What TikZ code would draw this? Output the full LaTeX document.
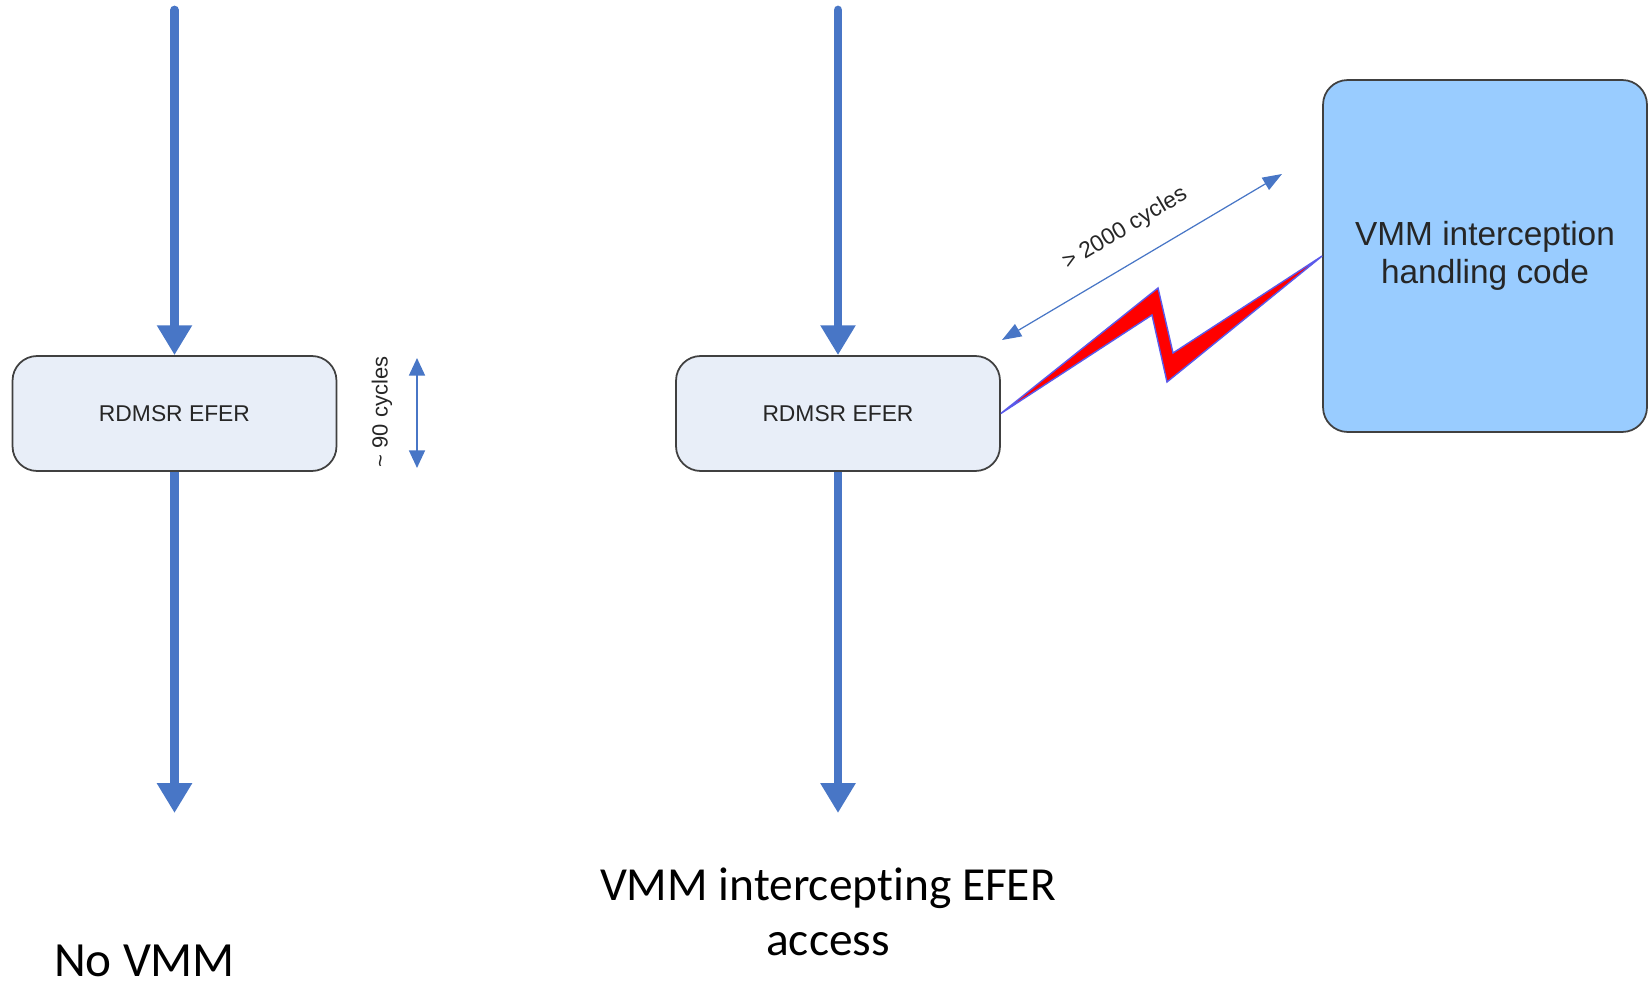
\documentclass[tikz,border=0pt]{standalone}
\usepackage{fontspec}
\setmainfont{Carlito}[Ligatures=NoCommon]
\newfontfamily\arialfont{Liberation Sans}
\usetikzlibrary{arrows.meta,positioning}
\definecolor{flowblue}{RGB}{72,118,198}
\definecolor{boxfill}{RGB}{232,238,248}
\definecolor{vmmfill}{RGB}{153,204,255}
\definecolor{boltblue}{RGB}{90,90,235}

\begin{document}
\begin{tikzpicture}[x=0.02cm, y=-0.02cm,
  flow/.style={draw=flowblue, line width=5pt, -{Triangle[length=17pt,width=19pt]}},
  instr/.style={rectangle, rounded corners=14pt, draw=black!75, line width=1pt,
    fill=boxfill, minimum width=6.48cm, minimum height=2.3cm,
    font=\arialfont\fontsize{13}{15}\selectfont, text=black!85},
  span/.style={draw=flowblue, line width=1.2pt,
    {Triangle[length=10pt,width=9pt]}-{Triangle[length=10pt,width=9pt]}},
  bolt/.style={fill=red, draw=boltblue, line width=0.8pt},
  caption/.style={font=\fontsize{27}{31.3}\selectfont, align=center}]
\useasboundingbox (0,0) rectangle (1649,982);

% left: no VMM
\node[instr] (rdmsrA) at (174.5,413.5) {RDMSR EFER};
\coordinate (inA) at (174.5,10);
\coordinate (outA) at (174.5,813);
\draw[flow, line cap=round] (inA) -- (rdmsrA.north);
\draw[flow] (rdmsrA.south) -- (outA);

\coordinate (shortTop) at (417,358);
\coordinate (shortBot) at (417,468);
\draw[span] (shortTop) -- (shortBot);
\node[rotate=90, font=\arialfont\fontsize{12.5}{14}\selectfont, text=black!85]
  (shortlbl) at (382,412) {\textasciitilde{} 90 cycles};

% right: VMM intercepting
\node[instr] (rdmsrB) at (838,413.5) {RDMSR EFER};
\coordinate (inB) at (838,10);
\coordinate (outB) at (838,813);
\draw[flow, line cap=round] (inB) -- (rdmsrB.north);
\draw[flow] (rdmsrB.south) -- (outB);

\node[instr, fill=vmmfill, minimum height=7.04cm, align=center,
      font=\arialfont\fontsize{19}{21.6}\selectfont] (vmm) at (1485,256)
  {VMM interception\\handling code};

\draw[bolt] (rdmsrB.east) -- (1158,288) -- (1173,353) -- (vmm.west)
  -- (1167,382) -- (1152,315) -- cycle;

\coordinate (longA) at (1002,340);
\coordinate (longB) at (1282,174);
\draw[span, line width=0.7pt,
      {Triangle[length=11pt,width=8pt]}-{Triangle[length=11pt,width=8pt]}]
  (longA) -- (longB)
  node[midway, sloped, above=9pt, font=\arialfont\fontsize{13}{15}\selectfont,
       text=black!85] (longlbl) {> 2000 cycles};

% captions
\node[caption, font=\fontsize{28}{32}\selectfont, anchor=base west]
  (novmm) at (48,976) {No VMM};
\node[caption] (vmmcap) at (828,912) {VMM intercepting EFER\\access};
\end{tikzpicture}
\end{document}
